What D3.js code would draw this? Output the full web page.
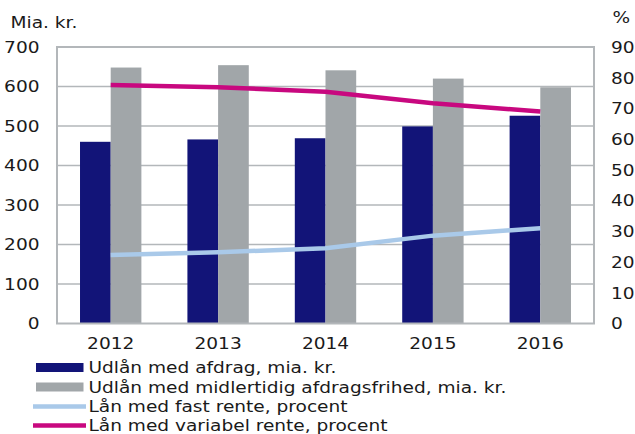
<!DOCTYPE html>
<html><head><meta charset="utf-8">
<script src="https://cdn.jsdelivr.net/npm/d3@7"></script>
<style>body{margin:0;background:#fff}svg text{font-family:"DejaVu Sans",Verdana,sans-serif;fill:#1a1a1a}</style>
</head><body>
<svg id="c" width="635" height="434"></svg>
<script>
const categories = ["2012","2013","2014","2015","2016"];
const afdrag = [460, 466, 469, 499, 526];
const afdragsfri = [648, 654, 641, 620, 598];
const fastRente = [22.3, 23.2, 24.5, 28.6, 31.0];
const variabelRente = [77.6, 76.9, 75.4, 71.7, 69.0];
const leftTicks = [0,100,200,300,400,500,600,700];
const rightTicks = [0,10,20,30,40,50,60,70,80,90];
const legendLabels = ["Udlån med afdrag, mia. kr.","Udlån med midlertidig afdragsfrihed, mia. kr.","Lån med fast rente, procent","Lån med variabel rente, procent"];
const colors = {navy:"#121478", gray:"#a1a6a9", light:"#a9c9e9", magenta:"#c8087f", grid:"#b3b7ba"};

const svg = d3.select("#c");
const L=57, R=594, T=47, B=323.5;
const x = d3.scaleBand().domain(categories).range([L,R]).padding(0);
const x1 = d3.scaleBand().domain(["a","b"]).range([0,x.bandwidth()]).paddingInner(0).paddingOuter(0.75);
const yL = d3.scaleLinear().domain([0,700]).range([B,T]);
const yR = d3.scaleLinear().domain([0,90]).range([B,T]);
const FS = 16, SX = 1.16;
function txt(g, xx, yy, s, anchor){
  return g.append("text").attr("transform",`translate(${xx},${yy}) scale(${SX},1)`).attr("font-size",FS).attr("text-anchor",anchor||"start").text(s);
}
// grid
svg.append("g").selectAll("line").data(leftTicks.slice(1,-1)).join("line")
  .attr("x1",L).attr("x2",R).attr("y1",d=>yL(d)).attr("y2",d=>yL(d)).attr("stroke",colors.grid).attr("stroke-width",1.5);
// bars
const g = svg.append("g");
g.selectAll(".a").data(categories).join("rect").attr("x",d=>x(d)+x1("a")).attr("width",x1.bandwidth())
  .attr("y",(d,i)=>yL(afdrag[i])).attr("height",(d,i)=>B-yL(afdrag[i])).attr("fill",colors.navy);
g.selectAll(".b").data(categories).join("rect").attr("x",d=>x(d)+x1("b")).attr("width",x1.bandwidth())
  .attr("y",(d,i)=>yL(afdragsfri[i])).attr("height",(d,i)=>B-yL(afdragsfri[i])).attr("fill",colors.gray);
// frame
svg.append("rect").attr("x",L).attr("y",T).attr("width",R-L).attr("height",B-T).attr("fill","none").attr("stroke",colors.grid).attr("stroke-width",2);
// lines
const cx = d=>x(d)+x.bandwidth()/2;
const line = vals => d3.line().x((d,i)=>cx(categories[i])).y(d=>yR(d))(vals);
svg.append("path").attr("d",line(fastRente)).attr("fill","none").attr("stroke",colors.light).attr("stroke-width",4.5);
svg.append("path").attr("d",line(variabelRente)).attr("fill","none").attr("stroke",colors.magenta).attr("stroke-width",4.5);
// axes labels
const ax = svg.append("g");
leftTicks.forEach(t=>txt(ax, 39.5, yL(t)+5.8, String(t), "end"));
rightTicks.forEach(t=>txt(ax, 611, yR(t)+5.8, String(t), "start"));
categories.forEach(c=>txt(ax, cx(c), 348.5, c, "middle"));
txt(ax, 10.5, 28, "Mia. kr.");
txt(ax, 612.5, 23, "%");
// legend
const lg = svg.append("g");
const rowY = [367.5, 387, 406.5, 425.5];
lg.append("rect").attr("x",36).attr("y",rowY[0]-4.5).attr("width",47.5).attr("height",9).attr("fill",colors.navy);
lg.append("rect").attr("x",36).attr("y",rowY[1]-4.5).attr("width",47.5).attr("height",9).attr("fill",colors.gray);
lg.append("line").attr("x1",33).attr("x2",86).attr("y1",rowY[2]).attr("y2",rowY[2]).attr("stroke",colors.light).attr("stroke-width",4.5);
lg.append("line").attr("x1",33).attr("x2",86).attr("y1",rowY[3]).attr("y2",rowY[3]).attr("stroke",colors.magenta).attr("stroke-width",4.5);
legendLabels.forEach((s,i)=>txt(lg, 88.5, rowY[i]+5.8, s));
</script>
</body></html>
